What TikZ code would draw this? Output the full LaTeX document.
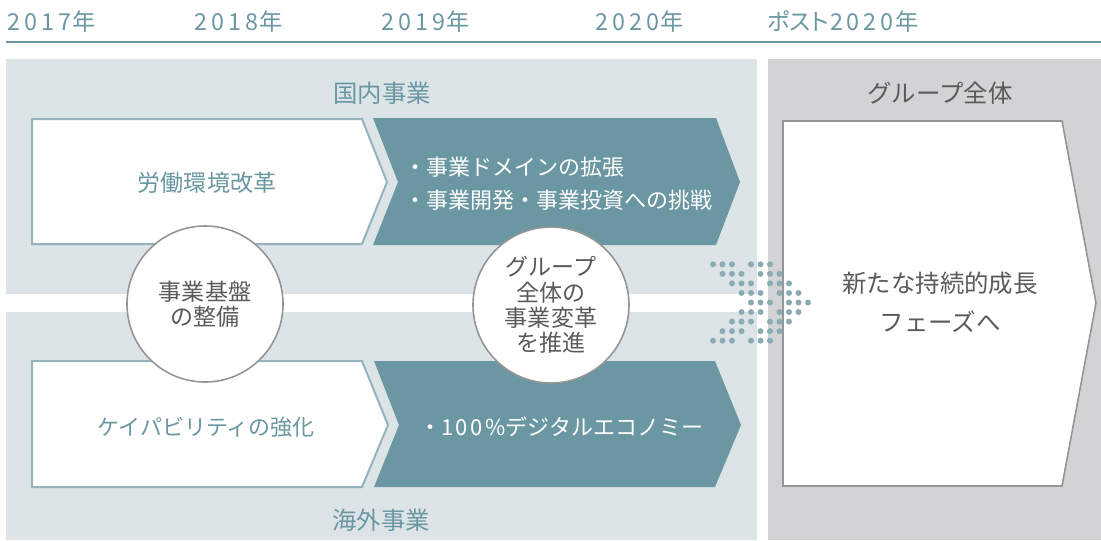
\documentclass[tikz,border=0pt]{standalone}
\usepackage{fontspec}
\setmainfont{Noto Sans CJK JP}
\newfontfamily\digitfont[LetterSpace=17]{Noto Sans CJK JP}
\newfontfamily\pctfont[LetterSpace=11]{Noto Sans CJK JP}
\newfontfamily\paltfont[RawFeature=+palt]{Noto Sans CJK JP}
\definecolor{myteal}{HTML}{6B97A3}
\definecolor{panelblue}{HTML}{DDE4E7}
\definecolor{panelgray}{HTML}{D2D3D5}
\definecolor{lightteal}{HTML}{94B3BC}
\definecolor{dotteal}{HTML}{8AAAB4}
\definecolor{txtgray}{HTML}{5A5A5A}
\definecolor{circgray}{HTML}{959595}
\newcommand{\yr}[1]{{\digitfont #1}\hspace{1pt}年}
\tikzset{
  yearlbl/.style={anchor=west, inner sep=0pt, text=myteal, font=\fontsize{17.5}{20}\selectfont},
  headlbl/.style={inner sep=0pt, font=\fontsize{18.3}{20}\selectfont},
  bodylbl/.style={inner sep=0pt, font=\fontsize{16.5}{20}\selectfont},
  whitechev/.style={fill=white, draw=lightteal, line width=1.5pt, line join=miter},
  darkchev/.style={fill=myteal},
  circbox/.style={circle, fill=white, draw=circgray, line width=1.2pt, minimum size=117pt, inner sep=0pt,
    align=center, text=txtgray, font=\fontsize{17.3}{19}\selectfont},
  dotmark/.style={fill=dotteal, draw=none}
}
\begin{document}
\begin{tikzpicture}[x=0.75pt, y=-0.75pt]
\useasboundingbox (0,0) rectangle (1101,540);
% timeline
\node[yearlbl] (y17) at (7,22) {\yr{2017}};
\node[yearlbl] (y18) at (194,22) {\yr{2018}};
\node[yearlbl] (y19) at (381,22) {\yr{2019}};
\node[yearlbl] (y20) at (595,22) {\yr{2020}};
\node[yearlbl] (ypost) at (767,22) {{\paltfont ポスト}\hspace{1pt}\yr{2020}};
\draw[myteal, line width=1.6pt] (6,42) -- (1101,42);
% panels
\fill[panelblue] (6,59) rectangle (757,294);
\fill[panelblue] (6,312) rectangle (757,540);
\fill[panelgray] (768,59) rectangle (1101,540);
% panel titles
\node[headlbl, text=myteal] (dom) at (382,93) {国内事業};
\node[headlbl, text=myteal] (ovs) at (381,520) {海外事業};
\node[headlbl, text=txtgray] (grp) at (940,93) {グループ全体};
% upper chevrons
\draw[whitechev] (32,119) -- (362,119) -- (387,182) -- (362,244) -- (32,244) -- cycle;
\fill[darkchev] (373,118) -- (716,118) -- (740,182) -- (716,245) -- (373,245) -- (398,182) -- cycle;
\node[bodylbl, text=myteal, font=\fontsize{17.3}{20}\selectfont] (labor) at (207,183) {労働環境改革};
\node[bodylbl, text=white, anchor=west] (dom1) at (404,167) {・事業ドメインの拡張};
\node[bodylbl, text=white, anchor=west] (dom2) at (404,200) {・事業開発・事業投資への挑戦};
% lower chevrons
\draw[whitechev] (32,361) -- (362,361) -- (388,425) -- (362,487) -- (32,487) -- cycle;
\fill[darkchev] (374,361) -- (715,361) -- (741,425) -- (715,487) -- (374,487) -- (399,425) -- cycle;
\node[bodylbl, text=myteal] (capab) at (206,427) {ケイパビリティの強化};
\node[bodylbl, text=white, anchor=west] (digi) at (419,427) {・{\pctfont 100\%}デジタルエコノミー};
% circles
\node[circbox] (c1) at (205,304) {事業基盤\\の整備};
\node[circbox] (c2) at (551,305) {グループ\\全体の\\事業変革\\を推進};
% right box
\draw[fill=white, draw=circgray, line width=1.2pt] (783,121) -- (1062,121) -- (1096,303) -- (1062,486) -- (783,486) -- cycle;
\node[headlbl, text=txtgray] (new1) at (940,283) {新たな持続的成長};
\node[headlbl, text=txtgray] (new2) at (940,322) {フェーズへ};
% dotted double arrow
\foreach \r in {0,...,8}{
  \pgfmathtruncatemacro{\k}{4-abs(\r-4)}
  \foreach \c in {0,1,2,4,5,6}{
    \fill[dotmark] ({713+(\k+\c)*9.5},{264.3+\r*9.55}) circle (2.25pt);
  }
}
\end{tikzpicture}
\end{document}
